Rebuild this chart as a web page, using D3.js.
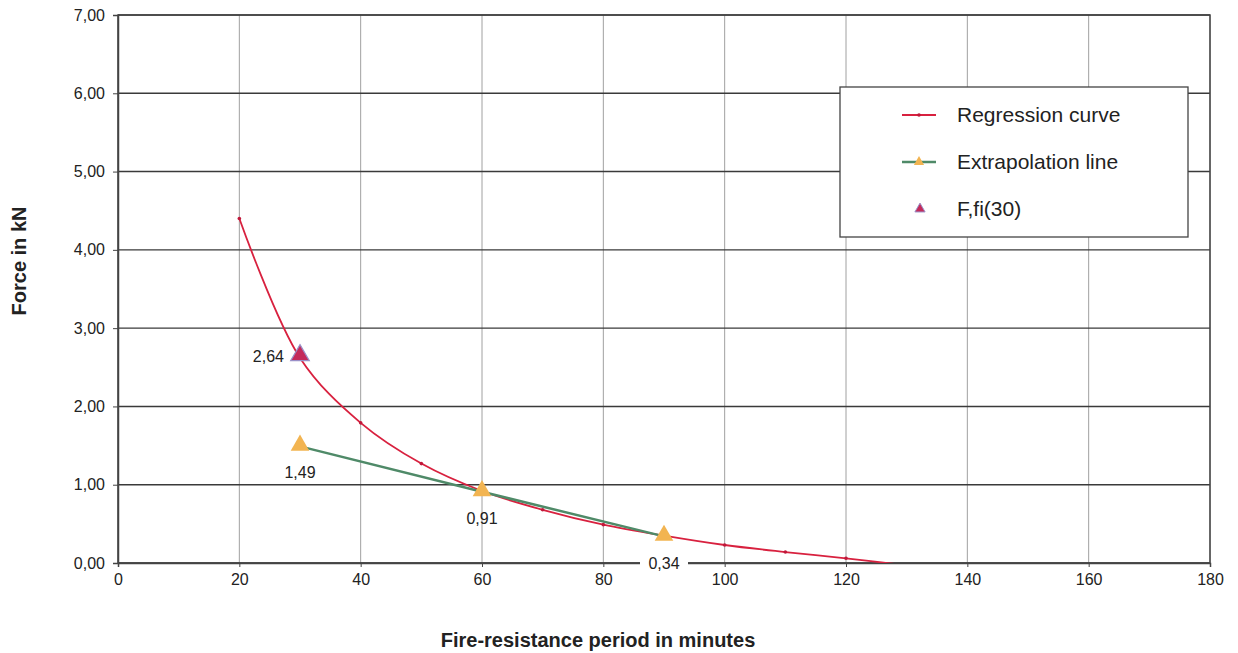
<!DOCTYPE html>
<html>
<head>
<meta charset="utf-8">
<script src="https://cdn.jsdelivr.net/npm/d3@7"></script>
<style>
body { margin: 0; background: #fff; }
svg text { font-family: "Liberation Sans", Arial, sans-serif; fill: #222; }
</style>
</head>
<body>
<div id="chart"></div>
<script>
// regression curve
var regMinutes = [20, 30, 40, 50, 60, 70, 80, 90, 100, 110, 120, 130];
var regForce   = [4.40, 2.62, 1.79, 1.27, 0.92, 0.68, 0.49, 0.35, 0.23, 0.14, 0.06, -0.03];

// extrapolation line
var extMinutes = [30, 60, 90];
var extForce   = [1.49, 0.91, 0.34];

// F,fi(30)
var fiMinutes = [30];
var fiForce   = [2.64];

var xTicks = [0, 20, 40, 60, 80, 100, 120, 140, 160, 180];
var yTicks = [0, 1, 2, 3, 4, 5, 6, 7];
var legendLabels = ["Regression curve", "Extrapolation line", "F,fi(30)"];

var w = 1238, h = 653;
var margin = {left: 118, right: 28, top: 15, bottom: 90};

var svg = d3.select("#chart").append("svg")
  .attr("width", w)
  .attr("height", h);

var x = d3.scaleLinear().domain([0, 180]).range([margin.left, w - margin.right]);
var y = d3.scaleLinear().domain([0, 7]).range([h - margin.bottom, margin.top]);

var fmt = function(d) { return d3.format(".2f")(d).replace(".", ","); };

// grid lines
svg.append("g").selectAll("line")
  .data(xTicks)
  .enter().append("line")
  .attr("x1", function(d) { return x(d); })
  .attr("x2", function(d) { return x(d); })
  .attr("y1", y(0)).attr("y2", y(7))
  .attr("stroke", "#a0a0a0").attr("stroke-width", 1);

svg.append("g").selectAll("line")
  .data(yTicks)
  .enter().append("line")
  .attr("x1", x(0)).attr("x2", x(180))
  .attr("y1", function(d) { return y(d); })
  .attr("y2", function(d) { return y(d); })
  .attr("stroke", "#3a3a3a").attr("stroke-width", 1.4);

// frame
svg.append("rect")
  .attr("x", x(0)).attr("y", y(7))
  .attr("width", x(180) - x(0)).attr("height", y(0) - y(7))
  .attr("fill", "none").attr("stroke", "#444").attr("stroke-width", 1.5);

// axes
var xAxis = d3.axisBottom(x).tickValues(xTicks).tickSize(4).tickPadding(7);
var yAxis = d3.axisLeft(y).tickValues(yTicks).tickSize(5).tickPadding(8).tickFormat(fmt);

var gx = svg.append("g")
  .attr("transform", "translate(0," + y(0) + ")")
  .call(xAxis);
var gy = svg.append("g")
  .attr("transform", "translate(" + x(0) + ",0)")
  .call(yAxis);
[gx, gy].forEach(function(g) {
  g.select(".domain").attr("stroke", "#444").attr("stroke-width", 1.5);
  g.selectAll(".tick line").attr("stroke", "#444");
  g.selectAll("text").attr("font-size", "16px").attr("fill", "#222")
    .attr("font-family", "Liberation Sans, Arial, sans-serif");
});

// clip
svg.append("clipPath").attr("id", "clip")
  .append("rect")
  .attr("x", x(0)).attr("y", y(7))
  .attr("width", x(180) - x(0)).attr("height", y(0) - y(7));

var regData = regMinutes.map(function(m, i) { return [m, regForce[i]]; });
var extData = extMinutes.map(function(m, i) { return [m, extForce[i]]; });
var fiData = fiMinutes.map(function(m, i) { return [m, fiForce[i]]; });

var curve = d3.line()
  .x(function(d) { return x(d[0]); })
  .y(function(d) { return y(d[1]); })
  .curve(d3.curveCatmullRom.alpha(0.5));

var straight = d3.line()
  .x(function(d) { return x(d[0]); })
  .y(function(d) { return y(d[1]); });

var plot = svg.append("g").attr("clip-path", "url(#clip)");

// regression curve
plot.append("path")
  .datum(regData)
  .attr("d", curve)
  .attr("fill", "none")
  .attr("stroke", "#d8213f")
  .attr("stroke-width", 1.8);

plot.selectAll(".regdot")
  .data(regData)
  .enter().append("circle")
  .attr("class", "regdot")
  .attr("cx", function(d) { return x(d[0]); })
  .attr("cy", function(d) { return y(d[1]); })
  .attr("r", 1.8)
  .attr("fill", "#c0183a");

// extrapolation line
plot.append("path")
  .datum(extData)
  .attr("d", straight)
  .attr("fill", "none")
  .attr("stroke", "#4f8a68")
  .attr("stroke-width", 2.5);

var tri = d3.symbol().type(d3.symbolTriangle).size(150);

svg.selectAll(".extpt")
  .data(extData)
  .enter().append("path")
  .attr("class", "extpt")
  .attr("d", tri)
  .attr("transform", function(d) { return "translate(" + x(d[0]) + "," + (y(d[1]) - 1) + ")"; })
  .attr("fill", "#f2b451");

svg.selectAll(".fipt")
  .data(fiData)
  .enter().append("path")
  .attr("class", "fipt")
  .attr("d", tri)
  .attr("transform", function(d) { return "translate(" + x(d[0]) + "," + (y(d[1]) - 1) + ")"; })
  .attr("fill", "#c42a5a")
  .attr("stroke", "#9a90c8")
  .attr("stroke-width", 1.2);

// value labels
svg.selectAll(".filabel")
  .data(fiData)
  .enter().append("text")
  .attr("x", function(d) { return x(d[0]) - 16; })
  .attr("y", function(d) { return y(d[1]) + 6; })
  .attr("text-anchor", "end")
  .attr("font-size", "16px")
  .text(function(d) { return fmt(d[1]); });

var extLabels = svg.selectAll(".extlabel")
  .data(extData)
  .enter().append("g")
  .attr("class", "extlabel")
  .attr("transform", function(d, i) {
    var ly = i === 2 ? y(0) + 6 : y(d[1]) + 32;
    return "translate(" + x(d[0]) + "," + ly + ")";
  });
extLabels.filter(function(d, i) { return i === 2; })
  .append("rect")
  .attr("x", -24).attr("y", -14).attr("width", 48).attr("height", 18)
  .attr("fill", "#fff");
extLabels.append("text")
  .attr("text-anchor", "middle")
  .attr("font-size", "16px")
  .text(function(d) { return fmt(d[1]); });

// legend
var lg = svg.append("g").attr("transform", "translate(840,87)");
lg.append("rect")
  .attr("width", 348).attr("height", 150)
  .attr("fill", "#fff").attr("stroke", "#444").attr("stroke-width", 1.3);

var items = lg.selectAll(".item")
  .data(legendLabels)
  .enter().append("g")
  .attr("class", "item")
  .attr("transform", function(d, i) { return "translate(0," + (28 + i * 47) + ")"; });

items.append("text")
  .attr("x", 117).attr("y", 7)
  .attr("font-size", "21px")
  .text(function(d) { return d; });

var it0 = items.filter(function(d, i) { return i === 0; });
it0.append("line").attr("x1", 62).attr("x2", 96).attr("stroke", "#d8213f").attr("stroke-width", 2);
it0.append("circle").attr("cx", 79).attr("r", 1.8).attr("fill", "#c0183a");

var it1 = items.filter(function(d, i) { return i === 1; });
it1.append("line").attr("x1", 62).attr("x2", 96).attr("stroke", "#4f8a68").attr("stroke-width", 2.5);
it1.append("path").attr("d", d3.symbol().type(d3.symbolTriangle).size(45))
  .attr("transform", "translate(79,0)").attr("fill", "#f2b451");

var it2 = items.filter(function(d, i) { return i === 2; });
it2.append("path").attr("d", d3.symbol().type(d3.symbolTriangle).size(45))
  .attr("transform", "translate(80,0)").attr("fill", "#c42a5a")
  .attr("stroke", "#9a90c8").attr("stroke-width", 1);

// axis titles
svg.append("text")
  .attr("transform", "translate(26,261) rotate(-90)")
  .attr("text-anchor", "middle")
  .attr("font-size", "20px")
  .attr("font-weight", "bold")
  .text("Force in kN");

svg.append("text")
  .attr("x", 598).attr("y", 647)
  .attr("text-anchor", "middle")
  .attr("font-size", "20px")
  .attr("font-weight", "bold")
  .text("Fire-resistance period in minutes");
</script>
</body>
</html>
